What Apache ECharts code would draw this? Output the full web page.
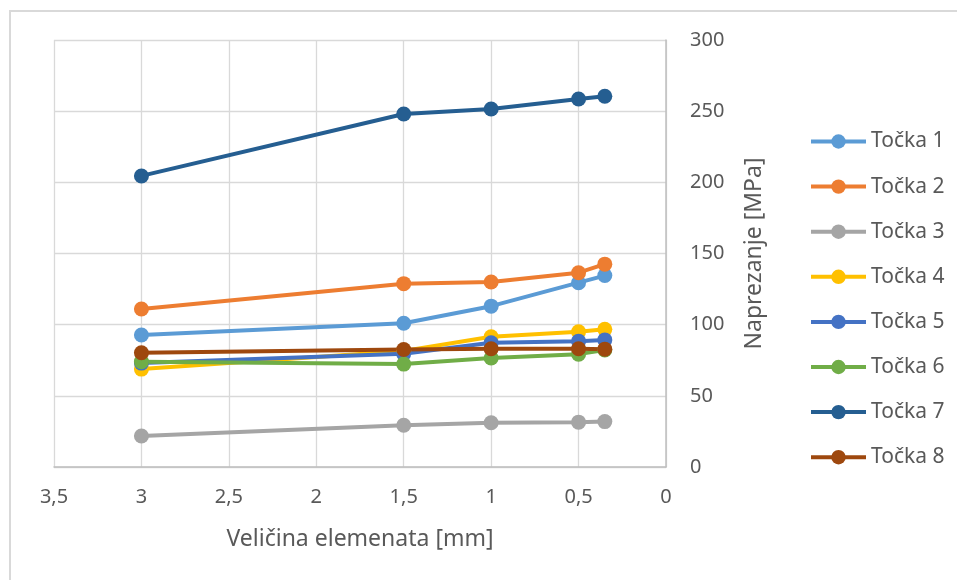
<!DOCTYPE html>
<html>
<head>
<meta charset="utf-8">
<script src="https://cdn.jsdelivr.net/npm/echarts@6/dist/echarts.min.js"></script>
<style>
  html, body { margin: 0; padding: 0; background: #fff; overflow: hidden; }
  #frame { position: absolute; left: 9px; top: 10px; width: 1000px; height: 1000px; border: 2px solid #d9d9d9; box-sizing: border-box; }
  #chart { position: absolute; left: 0; top: 0; width: 957px; height: 580px; }
</style>
</head>
<body>
<div id="frame"></div>
<div id="chart"></div>
<script>
// velicina elemenata [mm]
var sizes = [3, 1.5, 1, 0.5, 0.35];
var names = ['Točka 1', 'Točka 2', 'Točka 3', 'Točka 4', 'Točka 5', 'Točka 6', 'Točka 7', 'Točka 8'];
var tocka1 = [92.7, 101, 113, 129.5, 134.5];
var tocka2 = [111, 128.8, 130, 136.5, 142.5];
var tocka3 = [21.8, 29.3, 31.1, 31.5, 31.9];
var tocka4 = [68.8, 81.5, 91.5, 95, 96.7];
var tocka5 = [73, 79.5, 87.3, 88.4, 89.3];
var tocka6 = [74, 72.3, 76.6, 79.3, 82.2];
var tocka7 = [204.5, 248, 251.5, 258.5, 260.5];
var tocka8 = [80.3, 82.6, 83.1, 83.1, 82.8];
var colors = ['#5B9BD5', '#ED7D31', '#A5A5A5', '#FFC000', '#4472C4', '#70AD47', '#255E91', '#9E480E'];

var allData = [tocka1, tocka2, tocka3, tocka4, tocka5, tocka6, tocka7, tocka8];
var txt = '#595959';
var font = 'Noto Sans';

var series = allData.map(function (vals, i) {
    return {
        name: names[i],
        type: 'line',
        data: vals.map(function (v, j) { return [sizes[j], v]; }),
        symbol: 'circle',
        symbolSize: 15,
        color: colors[i],
        lineStyle: { width: 4 },
        emphasis: { disabled: true },
        animation: false
    };
});

var chart = echarts.init(document.getElementById('chart'));
chart.setOption({
    backgroundColor: 'transparent',
    textStyle: { fontFamily: font },
    grid: { left: 54, top: 40, right: 291, bottom: 113, containLabel: false },
    legend: {
        orient: 'vertical',
        left: 809,
        top: 131,
        padding: 0,
        itemWidth: 55,
        itemHeight: 18,
        itemGap: 24.1,
        data: names,
        lineStyle: { width: 4 },
        textStyle: { color: txt, fontSize: 21, fontFamily: font }
    },
    xAxis: {
        type: 'value',
        min: 0,
        max: 3.5,
        interval: 0.5,
        inverse: true,
        name: 'Veličina elemenata [mm]',
        nameLocation: 'middle',
        nameGap: 61,
        nameTextStyle: { color: txt, fontSize: 23, fontFamily: font },
        axisLine: { show: true, lineStyle: { color: '#bfbfbf', width: 1.5 } },
        axisTick: { show: false },
        axisLabel: {
            color: txt, fontSize: 20, margin: 20, fontFamily: font,
            formatter: function (v) { return String(v).replace('.', ','); }
        },
        splitLine: { show: true, lineStyle: { color: '#d9d9d9', width: 1.3 } }
    },
    yAxis: {
        type: 'value',
        position: 'right',
        min: 0,
        max: 300,
        interval: 50,
        name: 'Naprezanje [MPa]',
        nameLocation: 'middle',
        nameRotate: 90,
        nameGap: 77,
        nameTextStyle: { color: txt, fontSize: 23, fontFamily: font },
        axisLine: { show: true, lineStyle: { color: '#bfbfbf', width: 1.5 } },
        axisTick: { show: false },
        axisLabel: { color: txt, fontSize: 20, margin: 24, fontFamily: font },
        splitLine: { show: true, lineStyle: { color: '#d9d9d9', width: 1.3 } }
    },
    series: series
});
</script>
</body>
</html>
